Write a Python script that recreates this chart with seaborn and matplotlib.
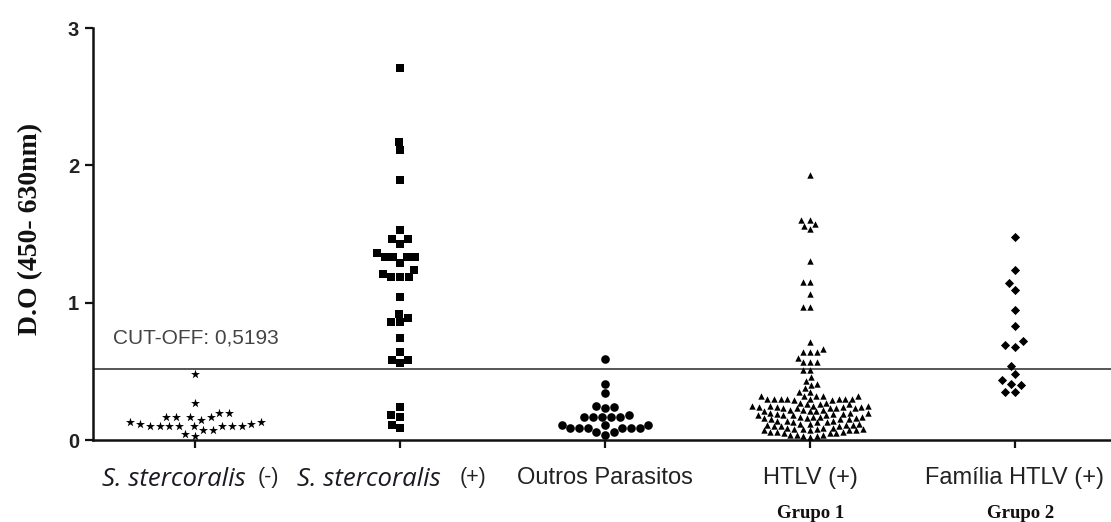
import warnings
import matplotlib
matplotlib.use("Agg")
import matplotlib.pyplot as plt
import pandas as pd
import seaborn as sns

warnings.filterwarnings("ignore")

# ---------------- data ----------------
categories = ["S. stercoralis (-)", "S. stercoralis (+)", "Outros Parasitos",
              "HTLV (+)", "Família HTLV (+)"]
label_main = ["S. stercoralis", "S. stercoralis", "Outros Parasitos",
              "HTLV (+)", "Família HTLV (+)"]
label_suffix = ["(-)", "(+)", "", "", ""]
group_labels = ["", "", "", "Grupo 1", "Grupo 2"]
y_ticks = [0, 1, 2, 3]
y_label = "D.O (450- 630nm)"
cutoff = 0.5193
cutoff_label = "CUT-OFF: 0,5193"

ss_neg = [0.48, 0.27, 0.20, 0.20, 0.165, 0.165, 0.165, 0.165, 0.145, 0.13,
          0.13, 0.115, 0.115, 0.105, 0.105, 0.10, 0.10, 0.10, 0.10, 0.10,
          0.10, 0.073, 0.073, 0.045, 0.03]

ss_pos = [2.71, 2.17, 2.11, 1.89, 1.53, 1.46, 1.46, 1.43, 1.33, 1.33, 1.33,
          1.33, 1.29, 1.36, 1.21, 1.19, 1.19, 1.19, 1.24, 1.04, 0.92, 0.86,
          0.86, 0.89, 0.74, 0.64, 0.58, 0.58, 0.56, 0.24, 0.18, 0.17, 0.11,
          0.09]

outros = [0.59, 0.41, 0.34, 0.25, 0.23, 0.24, 0.17, 0.17, 0.17, 0.17, 0.17,
          0.18, 0.11, 0.11, 0.11, 0.09, 0.09, 0.09, 0.09, 0.09, 0.09, 0.06,
          0.06, 0.04]

htlv_upper = [1.93, 1.60, 1.56, 1.54, 1.57, 1.60, 1.30, 1.15, 1.15, 1.06,
              0.97, 0.97, 0.71, 0.64, 0.64, 0.64, 0.66, 0.60, 0.57, 0.57,
              0.57, 0.51, 0.51, 0.46, 0.43, 0.40, 0.38, 0.41, 0.35, 0.35,
              0.32, 0.32, 0.32, 0.32, 0.32, 0.30, 0.30, 0.30, 0.30, 0.30,
              0.30, 0.30, 0.30, 0.29, 0.29]
htlv_band = [0.27, 0.27, 0.26, 0.26, 0.26, 0.25, 0.25, 0.25, 0.25, 0.24,
             0.24, 0.24, 0.24, 0.23, 0.23, 0.23, 0.23, 0.23, 0.22, 0.22,
             0.22, 0.21, 0.21, 0.21, 0.20, 0.20, 0.20, 0.19, 0.19, 0.19,
             0.18, 0.18, 0.18, 0.18, 0.17, 0.17, 0.17, 0.17, 0.16, 0.16,
             0.16, 0.15, 0.15, 0.15, 0.14, 0.14, 0.14, 0.13, 0.13, 0.13,
             0.12, 0.12, 0.12, 0.11, 0.11, 0.11, 0.10, 0.10, 0.10, 0.09,
             0.09, 0.09, 0.08, 0.08, 0.08, 0.08, 0.07, 0.07, 0.07, 0.07,
             0.06, 0.06, 0.06, 0.05, 0.05, 0.05, 0.04, 0.04, 0.04, 0.03,
             0.03, 0.02]
htlv = htlv_upper + htlv_band

familia = [1.48, 1.24, 1.14, 1.09, 0.95, 0.83, 0.72, 0.68, 0.69, 0.54, 0.48,
           0.44, 0.40, 0.41, 0.35, 0.35]

group_values = [ss_neg, ss_pos, outros, htlv, familia]
diamond = [(0, 1), (1, 0), (0, -1), (-1, 0)]
markers = ["*", "s", "o", "^", diamond]
marker_sizes = [6.8, 6.0, 6.2, 4.6, 6.6]

df = pd.DataFrame({
    "group": [c for c, vals in zip(categories, group_values) for _ in vals],
    "value": [v for vals in group_values for v in vals],
})

# ---------------- figure ----------------
sns.set_style("ticks")
plt.rcParams["font.family"] = ["Liberation Sans", "DejaVu Sans"]

W, H = 1111, 522
fig = plt.figure(figsize=(W / 100, H / 100), dpi=100)
ax = fig.add_axes([93 / W, 82 / H, 1 - 93 / W, (440 - 28) / H])

for cat, m, s in zip(categories, markers, marker_sizes):
    sub = df[df["group"] == cat]
    sns.swarmplot(data=sub, x="group", y="value", order=categories,
                  marker=m, color="black", size=s, linewidth=0, ax=ax)

for coll in ax.collections:
    coll.set_clip_on(False)

ax.axhline(cutoff, color="#555555", lw=1.4, zorder=0.5)

ax.set_ylim(0, 3)
ax.set_xlim(-102 / 205, (W - 195) / 205)
ax.set_yticks(y_ticks)
ax.set_yticklabels([str(t) for t in y_ticks], fontsize=14.5, fontweight="bold",
                   color="#222222")
ax.set_xticks(range(len(categories)))
ax.set_xticklabels([""] * len(categories))
ax.set_xlabel("")
ax.set_ylabel("")
for side in ["top", "right"]:
    ax.spines[side].set_visible(False)
for side in ["left", "bottom"]:
    ax.spines[side].set_linewidth(1.8)
    ax.spines[side].set_color("#111111")
ax.tick_params(axis="both", direction="out", length=6, width=1.6,
               color="#111111", pad=4)

# x category labels
xt = ax.get_xaxis_transform()
px = 0.72  # points per pixel
grp_dx = [0, 0, 0, 1, 6]
for i, (main, suf, grp) in enumerate(zip(label_main, label_suffix, group_labels)):
    if suf:
        dx = -21.5 if i == 0 else -31.5
        ax.annotate(main, xy=(i, 0), xycoords=xt, xytext=(dx * px, -39 * px),
                    textcoords="offset points", ha="center", va="center",
                    fontsize=18.5, fontstyle="italic", family=["Open Sans", "DejaVu Sans"],
                    color="#1a1a22", annotation_clip=False)
        ax.annotate(suf, xy=(i, 0), xycoords=xt, xytext=(73 * px, -37 * px),
                    textcoords="offset points", ha="center", va="center",
                    fontsize=15.5, family=["Liberation Sans Narrow", "Liberation Sans"],
                    color="#222222", annotation_clip=False)
    else:
        ax.annotate(main, xy=(i, 0), xycoords=xt, xytext=(0, -38 * px),
                    textcoords="offset points", ha="center", va="center",
                    fontsize=17, color="#222222", annotation_clip=False)
    if grp:
        ax.annotate(grp, xy=(i, 0), xycoords=xt, xytext=(grp_dx[i] * px, -73 * px),
                    textcoords="offset points", ha="center", va="center",
                    fontsize=13.5, fontweight="bold",
                    family=["Liberation Serif", "DejaVu Serif"],
                    color="#111111", annotation_clip=False)

# cut-off text
ax.annotate(cutoff_label, xy=(0, cutoff), xycoords=("axes fraction", "data"),
            xytext=(20 * px, 31 * px), textcoords="offset points",
            ha="left", va="center", fontsize=15, color="#444444")

# y label
fig.text(31 / W, 1 - 229 / H, y_label, rotation=90, ha="center", va="center",
         fontsize=20, fontweight="bold", family=["Liberation Serif", "DejaVu Serif"],
         color="#111111")

fig.savefig("out.png", dpi=100)
